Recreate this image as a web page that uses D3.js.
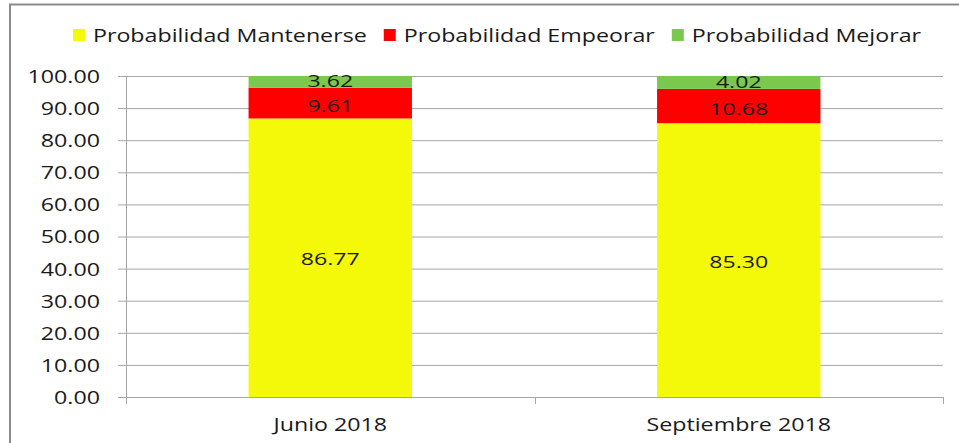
<html><head><title>Probabilidades</title>
<style>
  body { margin: 0; background: #fff; }
  svg text { font-family: 'Open Sans', sans-serif; fill: #1a1a1a; }
</style>
</head>
<body>
<svg id="chart" width="959" height="443"></svg>
<script src="https://cdnjs.cloudflare.com/ajax/libs/d3/7.8.5/d3.min.js"></script>
<script>
const categories = ["Junio 2018", "Septiembre 2018"];
const seriesNames = ["Probabilidad Mantenerse", "Probabilidad Empeorar", "Probabilidad Mejorar"];
const seriesColors = ["#f4f90a", "#ff0000", "#7ac94e"];
const mantenerse = [86.77, 85.30];
const empeorar = [9.61, 10.68];
const mejorar = [3.62, 4.02];
const yTicks = [0, 10, 20, 30, 40, 50, 60, 70, 80, 90, 100];

const svg = d3.select("#chart");
const stretch = 1.29; // the original text is drawn wide

// frame (only top and left edges show)
svg.append("line").attr("x1", 9).attr("x2", 959).attr("y1", 4.5).attr("y2", 4.5)
  .attr("stroke", "#8a8a8a").attr("stroke-width", 2);
svg.append("line").attr("x1", 10).attr("x2", 10).attr("y1", 4).attr("y2", 443)
  .attr("stroke", "#8a8a8a").attr("stroke-width", 2);

const plotLeft = 126, plotRight = 943, plotTop = 76, plotBottom = 397;
const x = d3.scaleBand().domain(categories).range([plotLeft, plotRight]).paddingInner(0.6).paddingOuter(0.3);
const xOuter = d3.scaleBand().domain(categories).range([plotLeft, plotRight]);
const y = d3.scaleLinear().domain([0, 100]).range([plotBottom, plotTop]);

function wideText(g, px, py, str, anchor, size, k) {
  size = size || 18;
  k = k || stretch;
  return g.append("text")
    .attr("transform", `translate(${px},${py}) scale(${k},1)`)
    .attr("text-anchor", anchor || "middle")
    .attr("dominant-baseline", "central")
    .style("font-size", size + "px")
    .text(str);
}

// gridlines
svg.append("g").selectAll("line").data(yTicks.slice(1)).enter().append("line")
  .attr("x1", plotLeft).attr("x2", plotRight)
  .attr("y1", d => y(d) + 0.5).attr("y2", d => y(d) + 0.5)
  .attr("stroke", "#a6a6a6").attr("stroke-width", 1);

// stacked bars
const rows = categories.map((c, i) => ({ cat: c, m: mantenerse[i], e: empeorar[i], j: mejorar[i] }));
const stack = d3.stack().keys(["m", "e", "j"])(rows);
stack.forEach((layer, si) => {
  svg.append("g").selectAll("rect").data(layer).enter().append("rect")
    .attr("x", d => x(d.data.cat))
    .attr("width", x.bandwidth())
    .attr("y", d => y(d[1]))
    .attr("height", d => y(d[0]) - y(d[1]))
    .attr("fill", seriesColors[si]);
});

// axes
svg.append("line").attr("x1", plotLeft).attr("x2", plotRight).attr("y1", plotBottom + 0.5).attr("y2", plotBottom + 0.5)
  .attr("stroke", "#a6a6a6");
svg.append("line").attr("x1", plotLeft + 0.5).attr("x2", plotLeft + 0.5).attr("y1", plotTop).attr("y2", plotBottom + 7)
  .attr("stroke", "#a6a6a6");
const yAxisG = svg.append("g");
yTicks.forEach(t => {
  yAxisG.append("line").attr("x1", plotLeft - 8).attr("x2", plotLeft).attr("y1", y(t) + 0.5).attr("y2", y(t) + 0.5)
    .attr("stroke", "#a6a6a6");
  wideText(yAxisG, 100, y(t), d3.format(".2f")(t), "end");
});
const xTickPos = categories.map(c => xOuter(c) + xOuter.bandwidth()).concat([plotLeft]);
xTickPos.forEach(p => {
  svg.append("line").attr("x1", Math.round(p) + 0.5).attr("x2", Math.round(p) + 0.5)
    .attr("y1", plotBottom).attr("y2", plotBottom + 7).attr("stroke", "#a6a6a6");
});
categories.forEach(c => {
  wideText(svg, x(c) + x.bandwidth() / 2, 424, c, "middle");
});

// value labels (the two small top segments sit tight, nudge them apart a little)
const labelG = svg.append("g");
const nudge = [1, 2, -1.5];
stack.forEach((layer, si) => {
  layer.forEach(d => {
    wideText(labelG, x(d.data.cat) + x.bandwidth() / 2, (y(d[0]) + y(d[1])) / 2 + nudge[si],
      d3.format(".2f")(d[1] - d[0]), "middle", 17, 1.36);
  });
});

// legend
const legend = svg.append("g");
const items = seriesNames.map((name, i) => {
  const t = wideText(legend, 0, 35, name, "start");
  return { t, w: t.node().getComputedTextLength() * stretch, color: seriesColors[i] };
});
const sq = 12, gapText = 8, gapItem = 17;
const total = d3.sum(items, d => sq + gapText + d.w) + gapItem * (items.length - 1);
let cx = 497 - total / 2;
items.forEach(it => {
  legend.append("rect").attr("x", cx).attr("y", 29).attr("width", sq).attr("height", sq).attr("fill", it.color);
  it.t.attr("transform", `translate(${cx + sq + gapText},35) scale(${stretch},1)`);
  cx += sq + gapText + it.w + gapItem;
});
</script>
</body></html>
